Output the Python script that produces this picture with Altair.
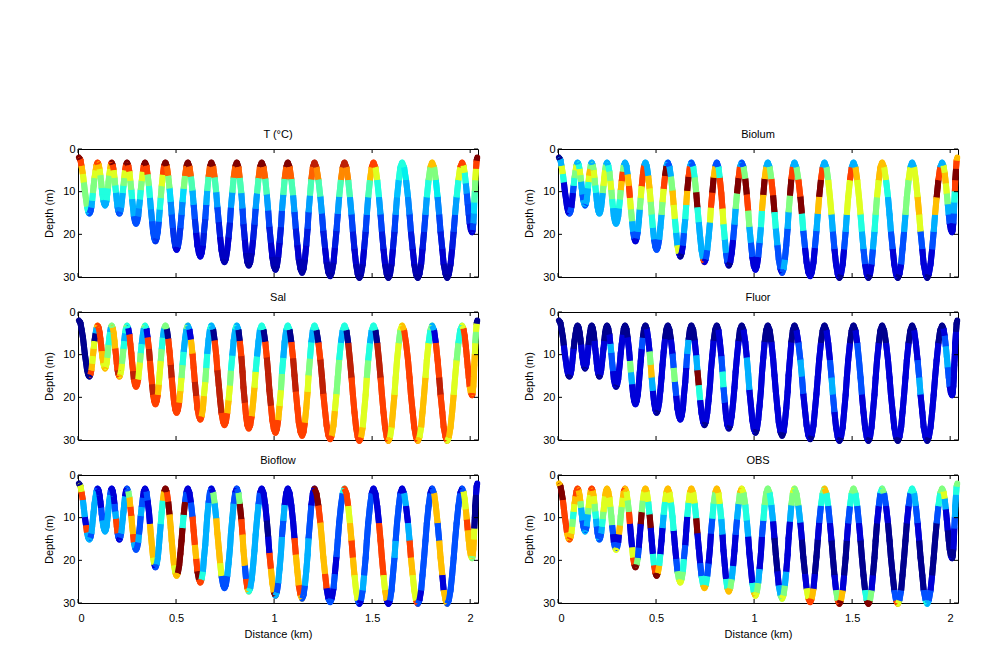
import altair as alt
import pandas as pd

# Ship track: distance (km) per leg, 10 way-points per leg
DIST = [
[0.005,.012,.018,.025,.030,.035,.041,.046,.052,.058],
[.058,.063,.068,.072,.076,.080,.084,.090,.095,.100],
[.100,.105,.110,.114,.118,.121,.125,.129,.134,.138],
[.138,.142,.146,.149,.153,.156,.159,.164,.168,.172],
[.172,.177,.182,.186,.190,.194,.198,.202,.207,.211],
[.211,.215,.220,.224,.228,.232,.236,.240,.245,.250],
[.250,.256,.262,.267,.272,.276,.281,.285,.291,.296],
[.296,.301,.307,.311,.316,.320,.325,.331,.336,.342],
[.342,.349,.355,.362,.367,.372,.378,.383,.389,.395],
[.395,.401,.407,.412,.417,.422,.427,.433,.439,.446],
[.446,.453,.460,.467,.473,.478,.484,.490,.497,.503],
[.503,.509,.516,.522,.528,.533,.539,.546,.553,.560],
[.560,.568,.576,.584,.590,.596,.603,.609,.617,.624],
[.624,.630,.637,.642,.649,.654,.659,.666,.673,.680],
[.680,.689,.697,.705,.711,.718,.725,.732,.740,.747],
[.747,.754,.761,.768,.775,.780,.787,.794,.802,.810],
[.810,.818,.825,.833,.839,.844,.851,.857,.864,.871],
[.871,.878,.886,.893,.900,.906,.913,.921,.928,.937],
[.937,.946,.955,.963,.970,.976,.984,.991,.999,1.007],
[1.007,1.014,1.021,1.028,1.035,1.040,1.047,1.054,1.062,1.070],
[1.070,1.079,1.088,1.097,1.104,1.111,1.119,1.126,1.135,1.143],
[1.143,1.150,1.157,1.164,1.171,1.176,1.183,1.190,1.198,1.206],
[1.206,1.216,1.226,1.236,1.244,1.251,1.260,1.268,1.277,1.286],
[1.286,1.294,1.303,1.310,1.318,1.325,1.332,1.341,1.350,1.359],
[1.359,1.369,1.378,1.387,1.395,1.402,1.410,1.418,1.427,1.435],
[1.435,1.443,1.452,1.459,1.467,1.473,1.480,1.489,1.498,1.507],
[1.507,1.517,1.526,1.535,1.543,1.550,1.558,1.566,1.575,1.583],
[1.583,1.591,1.599,1.606,1.614,1.620,1.627,1.636,1.644,1.653],
[1.653,1.663,1.673,1.683,1.691,1.698,1.707,1.715,1.724,1.733],
[1.733,1.741,1.750,1.757,1.765,1.772,1.779,1.788,1.797,1.806],
[1.806,1.816,1.825,1.834,1.842,1.849,1.858,1.865,1.875,1.883],
[1.883,1.891,1.900,1.908,1.916,1.923,1.931,1.940,1.949,1.959],
[1.959,1.966,1.972,1.978,1.983,1.988,1.993,1.998,2.004,2.010],
[2.010,2.013,2.016,2.019,2.021,2.024,2.026,2.030,2.033,2.036],
]
# Depth (m) at the same way-points
DEPTH = [
[2,2.5,4,5.9,7.9,9.9,11.8,13.5,14.7,15.1],
[15.1,14.7,13.7,12.1,10.3,8.6,6.8,5,3.7,3.2],
[3.2,3.6,4.7,6.2,7.7,9.2,10.7,12,12.9,13.2],
[13.2,12.9,12,10.7,9.2,7.7,6.2,4.7,3.6,3.2],
[3.2,3.7,5,6.8,8.6,10.3,12.1,13.7,14.7,15.1],
[15.1,14.7,13.7,12.1,10.3,8.6,6.8,5,3.7,3.2],
[3.2,3.8,5.3,7.5,9.6,11.8,13.9,15.8,17.1,17.5],
[17.5,17.1,15.8,13.9,11.8,9.6,7.5,5.3,3.8,3.2],
[3.2,3.9,6,8.7,11.5,14.2,17,19.4,21,21.6],
[21.6,21,19.4,17,14.2,11.5,8.7,6,3.9,3.2],
[3.2,4,6.3,9.3,12.4,15.4,18.5,21.2,23,23.6],
[23.6,23,21.2,18.5,15.4,12.4,9.3,6.3,4,3.2],
[3.2,4.1,6.5,9.8,13.1,16.4,19.7,22.6,24.5,25.2],
[25.2,24.5,22.6,19.7,16.4,13.1,9.8,6.5,4.1,3.2],
[3.2,4.1,6.7,10.2,13.7,17.2,20.7,23.7,25.8,26.5],
[26.5,25.8,23.7,20.7,17.2,13.7,10.2,6.7,4.1,3.2],
[3.2,4.2,6.8,10.4,14,17.7,21.3,24.4,26.6,27.3],
[27.3,26.6,24.4,21.3,17.7,14,10.4,6.8,4.2,3.2],
[3.2,4.2,7,10.7,14.5,18.3,22,25.3,27.5,28.3],
[28.3,27.5,25.3,22,18.3,14.5,10.7,7,4.2,3.2],
[3.2,4.2,7.1,10.9,14.8,18.7,22.6,25.9,28.2,29],
[29,28.2,25.9,22.6,18.7,14.8,10.9,7.1,4.2,3.2],
[3.2,4.3,7.2,11.2,15.2,19.2,23.2,26.6,29,29.8],
[29.8,29,26.6,23.2,19.2,15.2,11.2,7.2,4.3,3.2],
[3.2,4.3,7.3,11.3,15.4,19.4,23.5,27,29.4,30.2],
[30.2,29.4,27,23.5,19.4,15.4,11.3,7.3,4.3,3.2],
[3.2,4.3,7.3,11.3,15.4,19.4,23.5,27,29.4,30.2],
[30.2,29.4,27,23.5,19.4,15.4,11.3,7.3,4.3,3.2],
[3.2,4.3,7.3,11.3,15.4,19.4,23.5,27,29.4,30.2],
[30.2,29.4,27,23.5,19.4,15.4,11.3,7.3,4.3,3.2],
[3.2,4.3,7.3,11.3,15.4,19.4,23.5,27,29.4,30.2],
[30.2,29.4,27,23.5,19.4,15.4,11.3,7.3,4.3,3.2],
[3.2,3.9,5.6,8.1,10.5,13,15.4,17.5,19,19.5],
[19.5,19,17.4,15.1,12.5,9.9,7.3,4.6,2.7,2],
]
# Colour level (0-9 of the jet map) of each of the 9 stretches of a leg
T_C = [
9,8,7,6,5,5,5,4,3, 2,2,3,4,5,5,6,7,8, 8,7,6,5,5,4,4,3,3, 3,3,4,4,5,5,6,7,8,
9,8,6,5,4,3,3,2.5,2, 2,2.5,3,3,4,5,6,8,9, 9,8,6,5,4,3,3,2,2, 2,2,2.5,3,4,5,6,8,9,
9,8,5,4,3,2.5,2,2,2, 1.5,2,2,3,4,5,6,8,9, 9,7.8,5,3.5,2.5,2,1.5,1.5,1, 1,1.5,1.5,2,2.5,3.5,5,7.8,9,
9,7.8,4.5,3,2,1.5,1,1,1, 1,1,1.2,1.5,2,3,4.5,7.8,9, 9,7.8,4.5,2.8,1.8,1.2,.9,.7,.5, .5,.7,.9,1.2,1.8,2.8,4.5,7.8,9,
9,7.8,4.5,2.8,1.8,1.2,.9,.5,.3, .3,.5,.9,1.2,1.8,2.8,4.5,7.8,9, 9,7.8,4.5,2.8,1.8,1.2,.9,.5,.3, .3,.5,.9,1.2,1.8,2.8,4.5,7.8,9,
9,7.8,4.5,2.8,1.8,1.2,.9,.5,.3, .3,.5,.9,1.2,1.8,2.8,4.5,7.8,8.5, 8.5,7.5,4.5,2.8,1.8,1.2,.9,.5,.3, .3,.5,.9,1.2,1.8,2.8,4.5,7.5,8.5,
8.5,7.5,4.5,2.8,1.8,1.2,.9,.5,.2, .2,.5,.9,1.2,1.8,2.8,4.5,7,8, 8,6,4,2.8,1.8,1.2,.9,.5,.2, .2,.5,.9,1.2,1.8,2.8,3.2,4,4,
4,3.8,3,2.5,1.8,1.2,.9,.5,.2, .2,.5,.9,1.2,1.8,2.8,4,5,7, 7,5,3.8,2.5,1.8,1.2,.9,.5,.2, .2,.5,.9,1.2,1.8,2.8,4,6,8,
8,6,4,2.8,2,1.8,1.5,1,.8, 1,1.8,2.8,3.5,4.5,5,6,8,9,
]
BIOLUM = [
0,3,6,4,1,1,1,1,1, 2,2,1,1,2,4,5,6,3, 3,4,6,5,3,3,2,3,3, 2,3,3,3,4,6,7,5,3,
3,5,6,5,4,3,3,3,3, 3,3,3,3,5,6,6,5,3, 3,4,5,6,5,4,3,3,3, 3,3,3,4,5,7,8,5,3,
3,3,7,8,6,5,3,2,1, 1,2,3,3,5,6,8,8,3, 3,3,7,6,5,4,3,2,2, 2,2,3,3,5,6,8,9,3,
2,3,5,7,6,4,3,6,1, 0,1,2,3,4,7,9,8,3, 2,4,5,9,4,3,3,3,8, 1,2,3,3,6,8,9,7,2,
2,4,8,8,6,4,3,2,1, 0,1,1,2,3,5,9,8,3, 2,5,9,8,5,3,2,1,1, 1,1,2,3,4,7,9,7,3,
3,5,8,9,4,3,2,2,1, 2,3,2,2,3,5,9,8,3, 3,5,8,9,4,2,1,1,1, 1,1,1,2,3,7,9,8,3,
3,5,6,6,3,2,1,1,1, 0,1,1,2,3,6,6,8,3, 3,7,6,6,4,3,2,1,1, 0,1,2,3,4,5,6,7,7,
7,6,4,3,3,2,1,1,1, 0,1,2,2,3,5,5,6,3, 3,6,6,7,6,2,1,1,1, 0,1,1,2,3,7,9,8,3,
3,6,7,6,5,3,2,1,1, 1,1,2,3,4,8,9,8,7,
]
SAL = [
0,0,0,0,0,0,0,0,0, 0,8,7,6,7,6,0,3,7, 8,8,8,8,8,7,7,6,7, 7,6,6,5,5,4,4,3,5,
5,7,7,7,8,8,8,8.5,8, 7,6,6,5,5,4,3,4,5, 4,1,8,8,8,8,8.5,8,8, 8,8,6,6,5,4,3,3,5,
4,1,8,8.5,8,8,8.5,8,8, 8,8,7,6,6,5,4,3,5, 5,0,8,8,8.5,8,8,8,8, 8,8,7,6,5,4,3,3,5,
3,1,7,8,8,8.5,8,8,8, 8,7,7,6,5,4,3,3,4, 3,0,8,8,8.5,8.5,8.5,8,8, 8,8,7,6,5,4,3,3,4,
3,0,8,8.5,8.5,8.5,8,8,8, 8,8,7,7,6,4,3,3,4, 4,0,8,8.5,8.5,8.5,8,8,8, 8,8,7,6,5,4,3,3,4,
4,0,8,8.5,8.5,8,8,8,8, 8,8,7,7,6,5,4,3,4, 4,0,8,8.5,8.5,8,8,8,8, 8,7,7,6,5,5,4,3,4,
4,0,8.5,8.5,8,8,8,8,8, 8,7,6,6,6,5,4,3,4, 4,0,8.5,8.5,8,8,8,8,8, 7,6,7,7,6,6,6,5,6,
7,8,8,8,8,8,8,8,8, 7,6,7,7,7,6,6,4,5, 3,1,8,8,8.5,8,8,8,8, 6,7,7,7,6,6,5,4,4,
6,8,8,8,8,8,8,7,8, 8,7,7,7,7,6,5,6,0,
]
FLUOR = [
0,0,0,0,1,1,1,1,0, 0,1,1,1,1,0,0,0,0, 0,0,0,0,1,1,1,1,0, 0,1,1,1,1,0,0,0,0,
0,0,0,1,1,1,1,1,0, 0,1,1,1,1,1,0,0,0, 0,0,1,3,2,2,1,1,1, 0,1,1,1,1,1,1,0,0,
0,0,1,1,5,3,1,1,1, 1,1,1,1,1,1,2,0,0, 0,1,1,5,7,3,1,1,1, 0,1,1,1,1,1,1,0,0,
0,0,1,2,5,2,1,1,1, 1,1,1,1,1,2,3,0,0, 0,0,1,3,9,4,1,1,1, 0,1,1,1,1,1,1,0,0,
0,1,1,2,4,2,1,1,1, 0,1,1,1,1,1,1,0,0, 0,1,1,3,3,1,1,1,1, 0,1,1,1,1,1,1,0,0,
0,0,1,1,1,1,1,1,0, 0,1,1,1,1,1,1,0,0, 0,1,2,3,2,1,1,1,1, 0,1,1,1,1,1,1,0,0,
0,1,1,2,3,2,1,1,1, 0,1,1,1,1,1,1,0,0, 0,1,2,2,2,1,1,1,1, 0,1,1,1,1,1,1,0,0,
0,0,1,1,1,1,1,1,0, 0,1,1,1,1,1,1,0,0, 0,1,1,2,3,1,1,1,1, 0,1,1,1,1,1,1,0,0,
0,1,2,3,3,2,2,1,1, 1,1,1,1,1,1,1,0,0,
]
BIOFLOW = [
0,6,8,3,3,1,8,3,3, 3,2,3,3,3,3,3,3,2, 1,1,1,1,2,2,3,3,3, 3,3,3,3,3,3,3,2,1,
1,1,1,2,3,8,8,2,1, 1,2,3,3,3,3,3,1,1, 2,5,7,8,7,7,8,3,2, 2,2,3,2,2,3,2,1,1,
1,2,1,1,7,7,7,6,1, 2,3,3,3,3,4,4,7,9, 9,8,9,7,7,7,7,6,7, 7,9,9,9,9,4,9,2,1,
1,1,2,8,8,7,8,9,8, 8,4,3,3,3,3,3,2,2, 1,5,3,7,7,7,6,2,2, 2,2,3,3,3,3,3,2,1,
2,5,9,8,7,7,2,8,7, 4,3,3,3,3,3,3,2,1, 1,1,1,0,1,8,7,7,9, 3,2,3,3,3,2,3,1,1,
1,1,1,1,8,7,7,8,7, 2,2,3,3,3,2,2,1,1, 9,9,8,7,7,7,8,1,2, 2,1,2,1,2,2,2,2,4,
8,8,6,7,8,7,6,6,2, 1,2,3,2,2,2,2,2,1, 1,1,1,8,8,8,6,7,1, 1,2,2,2,3,2,2,2,1,
1,3,1,3,8,7,6,6,8, 2,1,2,2,2,2,2,2,1, 2,7,7,2,7,7,1,7,7, 2,2,2,2,2,2,2,2,1,
2,6,6,7,8,7,7,7,6, 5,7,7,6,0,0,0,1,1,
]
OBS = [
7,9,9,8,8,8,8,7,7, 8,7,6,5,4,6,7,8,8, 8,7,7,5,3,3,2,2,3, 3,2,3,3,5,6,6,7,8,
8,7,6,5,4,3,2,2,3, 2,2,3,4,5,6,6,7,7, 7,7,6,5,5,2,1,2,6, 6,2,1,7,5,5,6,7,8,
7,6,5,8,1,1,6,8,9, 9,5,2,1,1,9,5,6,7, 7,6,4,9,1,1,4,8,9, 9,7,4,1,1,3,4,6,7,
7,6,4,4,1,1,2,5,6, 6,5,4,2,1,1,4,6,7, 7,6,4,9,1,1,2,4,7, 7,4,2,1,1,2,4,5,7,
7,6,4,3,1,1,1,4,7, 7,5,3,1,1,2,3,5,7, 6,5,4,3,1,1,1,4,7, 6,5,3,1,1,2,4,5,5,
5,4,3,1,0,0,1,3,5, 6,5,3,1,1,1,3,5,6, 5,5,3,1,0,0,1,6,8, 8,7,1,0,0,1,2,4,5,
7,4,2,1,0,0,1,5,8, 9,7,1,0,0,1,2,4,5, 5,4,2,1,0,0,0,4,9, 9,5,1,0,0,0,1,2,4,
5,2,1,0,0,0,0,2,8, 6,2,0,0,0,0,1,2,4, 4,3,2,1,0,0,0,2,4, 3,2,1,0,0,0,2,4,5,
5,6,3,1,1,0,0,0,1, 0,0,1,1,2,3,3,4,5,
]
JET = ["#00008f","#0000d8","#0050ff","#00b0ff","#20ffdf",
       "#80ff80","#dfff20","#ffbf00","#ff4000","#800000"]
LEVELS = [0,1,2,3,4,5,6,7,8,9]
X_TICKS = [0,0.5,1,1.5,2]
Y_TICKS = [0,10,20,30]
X_MAX = 2.04
Y_MAX = 30
FONT = "Liberation Sans"

def segments(values):
    rows = []
    for i, (xs, ys) in enumerate(zip(DIST, DEPTH)):
        for j in range(9):
            rows.append({"x": xs[j], "x1": xs[j+1], "y": ys[j], "y1": ys[j+1],
                         "v": values[i*9+j]})
    return pd.DataFrame(rows)

def panel(title, values, bottom):
    xs = alt.Scale(domain=[0, X_MAX], nice=False)
    ys = alt.Scale(domain=[0, Y_MAX], reverse=True, nice=False)
    xax = alt.Axis(values=X_TICKS, format="~g", grid=False, tickSize=0, labelPadding=9,
                   labels=bottom, title="Distance (km)" if bottom else None, domain=False,
                   labelFontSize=11, titleFontSize=11, titleFontWeight="normal",
                   labelFont=FONT, titleFont=FONT, labelColor="black", titleColor="black", titlePadding=5)
    yax = alt.Axis(values=Y_TICKS, grid=False, tickSize=0, labelPadding=3, title="Depth (m)",
                   domain=False, labelFontSize=11, titleFontSize=11, titleFontWeight="normal",
                   labelFont=FONT, titleFont=FONT, labelColor="black", titleColor="black", titlePadding=8)
    seg = alt.Chart(segments(values))
    enc = dict(
        x=alt.X("x:Q", scale=xs, axis=xax), x2="x1:Q",
        y=alt.Y("y:Q", scale=ys, axis=yax), y2="y1:Q",
        color=alt.Color("v:Q", scale=alt.Scale(domain=LEVELS, range=JET), legend=None))
    under = seg.mark_rule(strokeWidth=6, strokeCap="round", clip=False).encode(**enc)
    over = seg.mark_rule(strokeWidth=6, strokeCap="butt", clip=False).encode(**enc)
    xd = pd.DataFrame({"t": X_TICKS})
    yd = pd.DataFrame({"t": Y_TICKS})
    tick = alt.Chart(xd).mark_rule(color="black", strokeWidth=1)
    xb = tick.encode(x=alt.X("t:Q", scale=xs, axis=xax), y=alt.value(128), y2=alt.value(124))
    xt = tick.encode(x=alt.X("t:Q", scale=xs, axis=xax), y=alt.value(0), y2=alt.value(4))
    tick2 = alt.Chart(yd).mark_rule(color="black", strokeWidth=1)
    yl = tick2.encode(y=alt.Y("t:Q", scale=ys, axis=yax), x=alt.value(0), x2=alt.value(4))
    yr = tick2.encode(y=alt.Y("t:Q", scale=ys, axis=yax), x=alt.value(400), x2=alt.value(396))
    return alt.layer(under, over, xb, xt, yl, yr).properties(
        width=400, height=128,
        title=alt.TitleParams(title, font=FONT, fontSize=11, fontWeight="normal", color="black", offset=3))

chart = alt.concat(
    panel("T (°C)", T_C, False), panel("Biolum", BIOLUM, False),
    panel("Sal", SAL, False), panel("Fluor", FLUOR, False),
    panel("Bioflow", BIOFLOW, True), panel("OBS", OBS, True),
    columns=2, spacing={"row": 35, "column": 80}, bounds="flush",
).properties(
    padding={"left": 35, "top": 120, "right": 5, "bottom": 5},
    background="white",
).configure_view(stroke="black", strokeWidth=1)

chart.save("out.html", embed_options={"renderer": "svg", "actions": False})
